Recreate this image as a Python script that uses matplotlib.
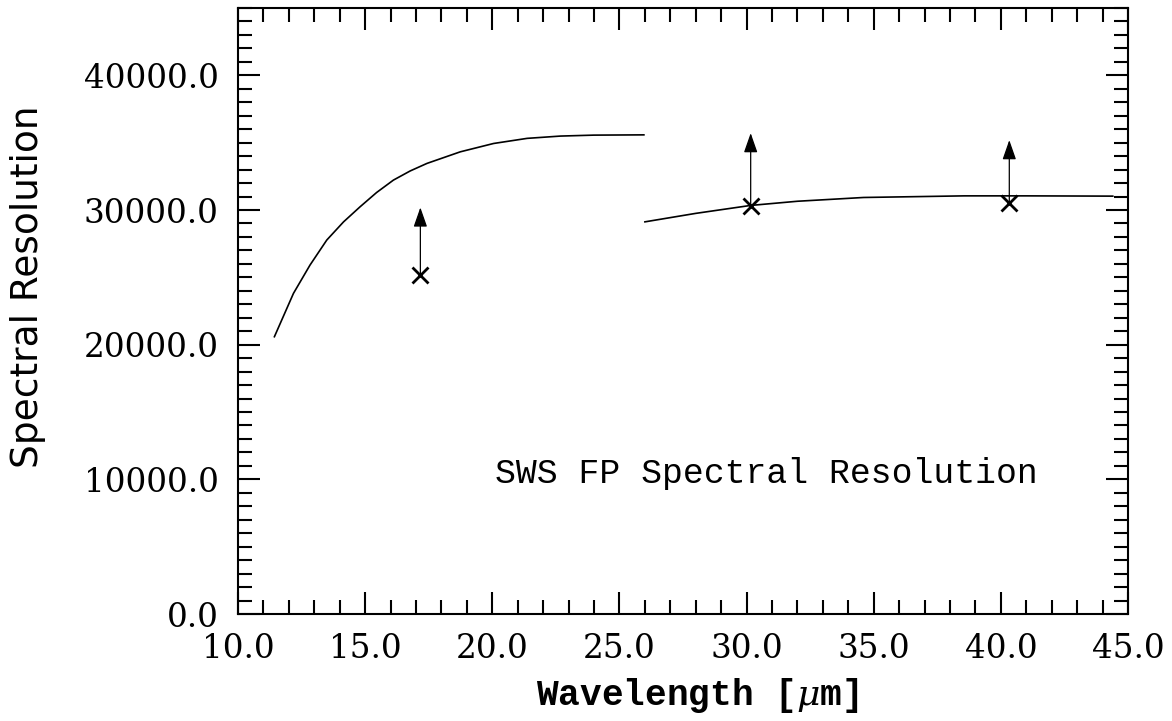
import matplotlib
matplotlib.use("Agg")
import matplotlib.pyplot as plt
from matplotlib.ticker import MultipleLocator, FormatStrFormatter

# =============================================================================
# DATA
# =============================================================================

# SW band curve (left)
curve1_x = [11.43, 12.18, 12.83, 13.49, 14.15, 14.80, 15.45, 16.11, 16.77,
            17.43, 18.74, 20.05, 21.37, 22.68, 23.99, 25.96]
curve1_y = [20590, 23810, 25910, 27770, 29120, 30240, 31300, 32220, 32900,
            33460, 34320, 34940, 35320, 35490, 35560, 35580]

# LW band curve (right)
curve2_x = [26.0, 28.0, 30.16, 32.0, 34.6, 38.56, 41.0, 44.4]
curve2_y = [29120, 29750, 30340, 30650, 30930, 31050, 31050, 31030]

# measured points (lower limits) and arrow tips
meas_x   = [17.17, 30.16, 40.33]
meas_y   = [25170, 30290, 30490]
arrow_to = [30190, 35710, 35190]

TITLE  = "SWS FP Spectral Resolution"
XLABEL = r"Wavelength [$\mu$m]"
YLABEL = "Spectral Resolution"

# =============================================================================

plt.rcParams["mathtext.fontset"] = "dejavuserif"

fig = plt.figure(figsize=(11.72, 7.21), dpi=100)
ax = fig.add_axes([0.2031, 0.1484, 0.7594, 0.8405])

ax.plot(curve1_x, curve1_y, color="black", lw=1.2)
ax.plot(curve2_x, curve2_y, color="black", lw=1.2)
ax.plot(meas_x, meas_y, ls="none", marker="x", ms=11, mew=2.0, color="black")

for x, y0, y1 in zip(meas_x, meas_y, arrow_to):
    ax.annotate("", xy=(x, y1), xytext=(x, y0),
                arrowprops=dict(arrowstyle="-|>,head_length=1.2,head_width=0.42",
                                color="black", lw=0.9, shrinkA=0, shrinkB=0,
                                mutation_scale=10))

ax.text(20.1, 9725, TITLE, fontsize=25, family="Liberation Mono",
        va="baseline", ha="left")

ax.set_xlim(10, 45)
ax.set_ylim(0, 45000)

ax.xaxis.set_major_locator(MultipleLocator(5))
ax.xaxis.set_minor_locator(MultipleLocator(1))
ax.yaxis.set_major_locator(MultipleLocator(10000))
ax.yaxis.set_minor_locator(MultipleLocator(1000))
ax.xaxis.set_major_formatter(FormatStrFormatter("%.1f"))
ax.yaxis.set_major_formatter(FormatStrFormatter("%.1f"))

ax.tick_params(which="both", direction="in", top=True, right=True, width=1.5)
ax.tick_params(which="major", length=16)
ax.tick_params(which="minor", length=10)
ax.tick_params(axis="x", which="major", pad=14)
ax.tick_params(axis="y", which="major", pad=14)
for lab in ax.get_xticklabels() + ax.get_yticklabels():
    lab.set_family("DejaVu Serif")
    lab.set_fontsize(23.5)

for sp in ax.spines.values():
    sp.set_linewidth(1.5)

ax.set_xlabel(XLABEL, fontsize=26, family="Liberation Mono", fontweight="bold")
ax.xaxis.set_label_coords((697 - 238) / 890, -0.102)
ax.xaxis.label.set_va("top")

ax.set_ylabel(YLABEL, fontsize=27, family="DejaVu Sans")
ax.yaxis.set_label_coords(-0.2155, 0.54)

fig.savefig("out.png", dpi=100)
plt.close(fig)
